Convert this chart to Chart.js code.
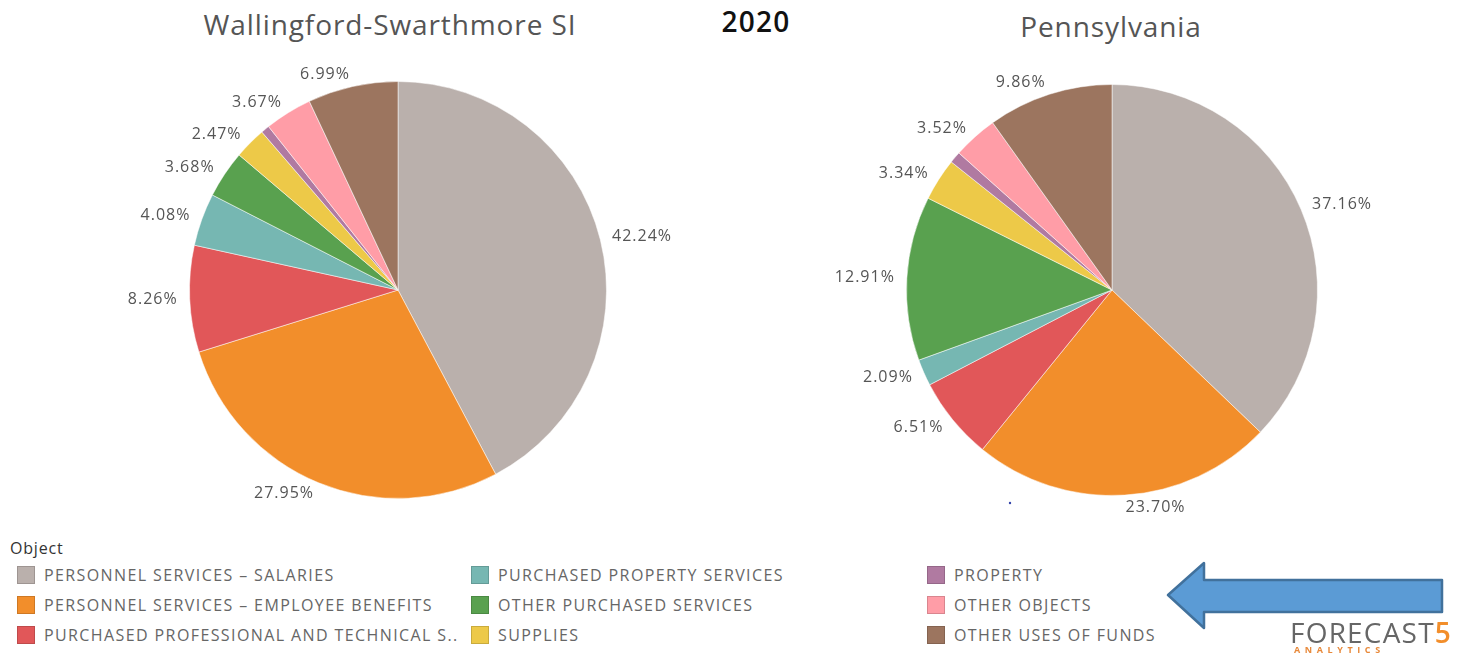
<!DOCTYPE html>
<html>
<head>
<meta charset="utf-8">
<script src="https://cdn.jsdelivr.net/npm/chart.js@4.4.0/dist/chart.umd.min.js"></script>
<style>
  body { margin: 0; background: #fff; font-family: "Open Sans", "Noto Sans", sans-serif; }
  #page { position: relative; width: 1457px; height: 655px; overflow: hidden; }
  .title { position: absolute; font-size: 28px; color: #555; white-space: nowrap; letter-spacing: 0.9px; transform: translateX(-50%); }
  #year { position: absolute; left: 756px; top: 2px; font-size: 28px; font-weight: 600; color: #111; letter-spacing: 1.2px; transform: translateX(-50%); }
  canvas { position: absolute; }
  #legendTitle { position: absolute; left: 10px; top: 537px; font-size: 16px; color: #333; letter-spacing: 0.8px; }
  .item { position: absolute; font-size: 16px; color: #666; white-space: nowrap; letter-spacing: 1.4px; }
  .item span.sw { display: inline-block; width: 18px; height: 18px; vertical-align: -3px; margin-right: 9px; box-sizing: border-box; border: 1px solid rgba(0,0,0,0.15); }
  #logo { position: absolute; left: 1290px; top: 613px; font-size: 28px; color: #666; letter-spacing: 1.2px; }
  #logo b { color: #f28e2b; font-weight: 600; }
  #logoSub { position: absolute; left: 1294px; top: 643px; font-size: 9px; font-weight: 700; color: #e8893a; letter-spacing: 4.6px; }
</style>
</head>
<body>
<div id="page">
  <div class="title" style="left:390px;top:5px;">Wallingford-Swarthmore SI</div>
  <div id="year">2020</div>
  <div class="title" style="left:1111px;top:7px;">Pennsylvania</div>
  <canvas id="leftPie" width="640" height="500" style="left:78px;top:40px;"></canvas>
  <canvas id="rightPie" width="640" height="500" style="left:792px;top:40px;"></canvas>
  <div id="legendTitle">Object</div>
  <div id="legend"></div>
  <svg width="1457" height="655" style="position:absolute;left:0;top:0;">
    <polygon points="1168,595 1204,563 1204,580 1442,580 1442,612 1204,612 1204,628"
             fill="#5b9bd5" stroke="#41719c" stroke-width="2.5" stroke-linejoin="round"/>
    <circle cx="1010" cy="503" r="1.2" fill="#3344aa"/>
  </svg>
  <div id="logo">FORECAST<b>5</b></div>
  <div id="logoSub">ANALYTICS</div>
</div>
<script>
const categories = [
  'PERSONNEL SERVICES \u2013 SALARIES',
  'PERSONNEL SERVICES \u2013 EMPLOYEE BENEFITS',
  'PURCHASED PROFESSIONAL AND TECHNICAL S..',
  'PURCHASED PROPERTY SERVICES',
  'OTHER PURCHASED SERVICES',
  'SUPPLIES',
  'PROPERTY',
  'OTHER OBJECTS',
  'OTHER USES OF FUNDS'
];
const colors = ['#bab0ac', '#f28e2b', '#e15759', '#76b7b2', '#59a14f', '#edc948', '#b07aa1', '#ff9da7', '#9c755f'];
const wallingfordValues = [42.24, 27.95, 8.26, 4.08, 3.68, 2.47, 0.66, 3.67, 6.99];
const pennsylvaniaValues = [37.16, 23.70, 6.51, 2.09, 12.91, 3.34, 0.91, 3.52, 9.86];

// legend, three columns of three
const legendCols = [17, 471, 927];
const legendRows = [564, 594, 624];
const legendEl = document.getElementById('legend');
categories.forEach(function(name, i) {
  const d = document.createElement('div');
  d.className = 'item';
  d.style.left = legendCols[Math.floor(i / 3)] + 'px';
  d.style.top = legendRows[i % 3] + 'px';
  d.innerHTML = '<span class="sw" style="background:' + colors[i] + '"></span>' + name;
  legendEl.appendChild(d);
});

// percent labels outside the slices
const outsideLabels = {
  id: 'outsideLabels',
  afterDatasetsDraw(chart) {
    const ctx = chart.ctx;
    const values = chart.data.datasets[0].data;
    ctx.save();
    ctx.font = '16px "Open Sans", "Noto Sans", sans-serif';
    ctx.letterSpacing = '1px';
    ctx.fillStyle = '#555';
    ctx.textBaseline = 'middle';
    chart.getDatasetMeta(0).data.forEach(function(arc, i) {
      if (values[i] < 1) return;
      const mid = (arc.startAngle + arc.endAngle) / 2;
      const r = arc.outerRadius + 12;
      const x = arc.x + Math.cos(mid) * r;
      const y = arc.y + Math.sin(mid) * r;
      ctx.textAlign = Math.cos(mid) >= 0 ? 'left' : 'right';
      ctx.fillText(values[i].toFixed(2) + '%', x, y);
    });
    ctx.restore();
  }
};

function makePie(id, values, padX, padY) {
  return new Chart(document.getElementById(id), {
    type: 'pie',
    data: {
      labels: categories,
      datasets: [{
        data: values,
        backgroundColor: colors,
        borderColor: 'rgba(255,255,255,0.5)',
        borderWidth: 1
      }]
    },
    options: {
      responsive: false,
      animation: false,
      layout: { padding: { left: padX, right: padX, top: padY, bottom: padY } },
      plugins: { legend: { display: false }, tooltip: { enabled: false } }
    },
    plugins: [outsideLabels]
  });
}

makePie('leftPie', wallingfordValues, 111, 41);
makePie('rightPie', pennsylvaniaValues, 114, 44);
</script>
</body>
</html>
